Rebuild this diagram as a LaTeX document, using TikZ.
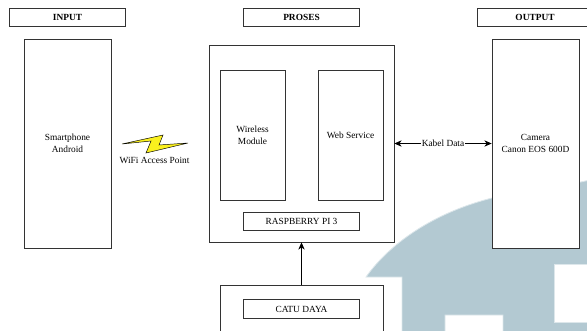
\documentclass[tikz,border=0pt]{standalone}
\usepackage{fontspec}
\setmainfont{Liberation Serif}
\usepackage{tikz}
\usetikzlibrary{arrows.meta}
\usepackage{xcolor}
\definecolor{bgwater}{RGB}{179,201,210}
\definecolor{petir}{RGB}{250,240,30}
\tikzset{
  blok/.style={draw=black!80,fill=white,line width=0.6pt,inner sep=0pt,align=center,
    font=\fontsize{8}{10.2}\selectfont},
  judul/.style={blok,minimum width=3.48cm,minimum height=0.54cm,font=\fontsize{8}{10.2}\selectfont\bfseries},
  label/.style={blok,minimum width=3.48cm,minimum height=0.56cm},
  sisi/.style={blok,minimum width=2.61cm,minimum height=6.27cm},
  modul/.style={blok,minimum width=1.95cm,minimum height=3.9cm},
  panah/.style={line width=0.6pt,-{Stealth[length=2.2mm,width=1.9mm]}},
}
\begin{document}
\begin{tikzpicture}[x=0.03cm,y=-0.03cm]
  \path[use as bounding box,clip](0,0) rectangle (587,330);
  % watermark
  \fill[bgwater,draw=bgwater!45,line width=0.7pt](366,277)..controls(385,250)and(425,215)..(492,198)
    ..controls(520,190)and(555,188)..(590,180)--(590,333)--(503,333)--(503,315)--(445,315)--(445,333)
    --(402,333)--(402,277)--cycle;
  \fill[white,draw=bgwater!45,line width=0.7pt](590,264)--(554,264)--(554,322)--(590,322)--cycle;
  % headers
  \node[judul](input) at(67.5,17){INPUT};
  \node[judul](proses) at(301.5,17){PROSES};
  \node[judul](output) at(535,17){OUTPUT};
  % input and output
  \node[sisi](smartphone) at(67.5,143.5){Smartphone\\Android};
  \node[sisi](camera) at(535.5,143.5){Camera\\Canon EOS 600D};
  % raspberry
  \node[blok,minimum width=5.55cm,minimum height=5.91cm](utama) at(301.5,143.5){};
  \node[modul](wireless) at(252.5,135){Wireless\\Module};
  \node[modul](webservice) at(350.5,135){Web Service};
  \node[label](raspberry) at(301.5,221.5){RASPBERRY PI 3};
  % catu daya
  \node[blok,minimum width=4.89cm,minimum height=1.8cm](catu) at(301.5,315){};
  \node[label](daya) at(301.5,309){CATU DAYA};
  % connectors
  \draw[panah,{Stealth[length=2.2mm,width=1.9mm]}-{Stealth[length=2.2mm,width=1.9mm]}](utama)--(camera)
    node[midway,fill=white,inner sep=0.5pt,font=\fontsize{8}{10.2}\selectfont](kabel){Kabel Data};
  \draw[panah](catu)--(utama);
  % wifi
  \draw[fill=petir,line width=0.4pt,line join=miter](122,144)--(163,135)--(159,145)--(188,143)--(146,153)--(151,141)--cycle;
  \node[font=\fontsize{8}{10.2}\selectfont](wifi) at(154.5,160.5){WiFi Access Point};
\end{tikzpicture}
\end{document}
